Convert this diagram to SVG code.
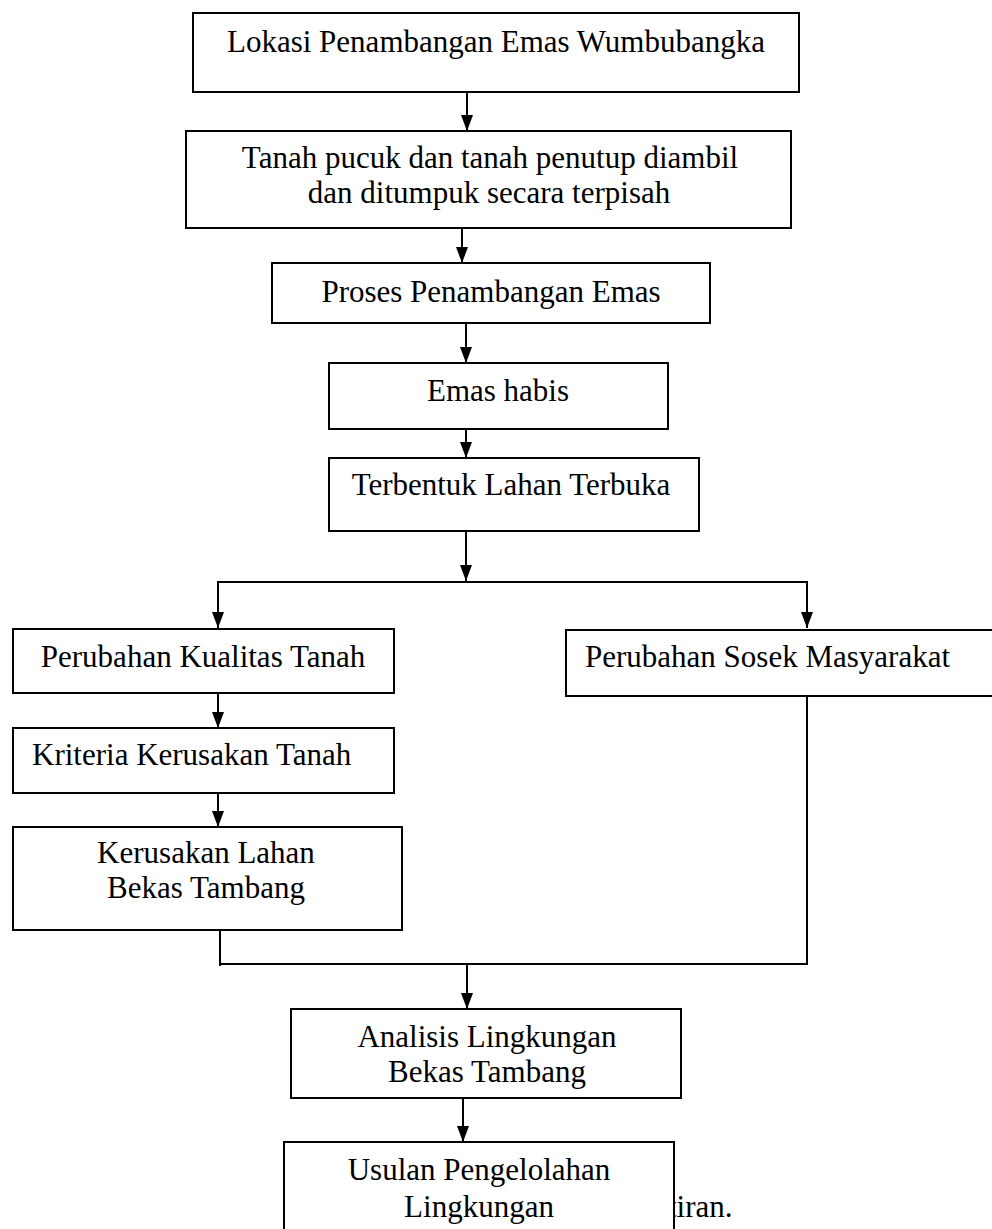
<svg xmlns="http://www.w3.org/2000/svg" width="992" height="1229" viewBox="0 0 992 1229">
<style>
rect{fill:#fff;stroke:#000;stroke-width:2}
text{font-family:"Liberation Serif","Times New Roman",serif;font-size:31px;fill:#000}
.m{text-anchor:middle}
.c{fill:none;stroke:#000;stroke-width:2}
</style>
<defs>
<marker id="ah" markerWidth="16" markerHeight="12" refX="16" refY="6" orient="auto" markerUnits="userSpaceOnUse" viewBox="0 0 16 12">
<path d="M0,0 L16,6 L0,12 Z" fill="#000"/>
</marker>
</defs>
<rect width="992" height="1229" style="fill:#fff;stroke:none"/>
<text x="668" y="1217">tiran.</text>
<g id="connectors">
<line class="c" x1="467" y1="92" x2="467" y2="131" marker-end="url(#ah)"/>
<line class="c" x1="462" y1="228" x2="462" y2="263" marker-end="url(#ah)"/>
<line class="c" x1="466" y1="320" x2="466" y2="363" marker-end="url(#ah)"/>
<line class="c" x1="466" y1="418" x2="466" y2="458" marker-end="url(#ah)"/>
<line class="c" x1="466" y1="531" x2="466" y2="581" marker-end="url(#ah)"/>
<polyline class="c" points="218,628 218,582 807,582 807,628"/>
<line class="c" x1="218" y1="582" x2="218" y2="628" marker-end="url(#ah)"/>
<line class="c" x1="807" y1="582" x2="807" y2="628" marker-end="url(#ah)"/>
<line class="c" x1="218" y1="693" x2="218" y2="728" marker-end="url(#ah)"/>
<line class="c" x1="218" y1="792" x2="218" y2="827" marker-end="url(#ah)"/>
<polyline class="c" points="220,930 220,966"/>
<polyline class="c" points="220,964 807,964 807,696"/>
<line class="c" x1="467" y1="964" x2="467" y2="1009" marker-end="url(#ah)"/>
<line class="c" x1="463" y1="1098" x2="463" y2="1142" marker-end="url(#ah)"/>
</g>
<g id="n1"><rect x="193" y="13" width="606" height="79"/><text class="m" x="496" y="52">Lokasi Penambangan Emas Wumbubangka</text></g>
<g id="n2"><rect x="186" y="131" width="605" height="97"/><text class="m" x="490" y="168">Tanah pucuk dan tanah penutup diambil</text><text class="m" x="489" y="203">dan ditumpuk secara terpisah</text></g>
<g id="n3"><rect x="272" y="263" width="438" height="60"/><text class="m" x="491" y="302">Proses Penambangan Emas</text></g>
<g id="n4"><rect x="329" y="363" width="339" height="66"/><text class="m" x="498" y="401">Emas habis</text></g>
<g id="n5"><rect x="329" y="458" width="370" height="73"/><text class="m" x="511" y="495">Terbentuk Lahan Terbuka</text></g>
<g id="n6"><rect x="13" y="629" width="381" height="64"/><text class="m" x="203" y="667">Perubahan Kualitas Tanah</text></g>
<g id="n7"><rect x="566" y="630" width="440" height="66"/><text x="585" y="667">Perubahan Sosek Masyarakat</text></g>
<g id="n8"><rect x="13" y="728" width="381" height="65"/><text x="32" y="765">Kriteria Kerusakan Tanah</text></g>
<g id="n9"><rect x="13" y="827" width="389" height="103"/><text class="m" x="206" y="863">Kerusakan Lahan</text><text class="m" x="206" y="898">Bekas Tambang</text></g>
<g id="n10"><rect x="291" y="1009" width="390" height="89"/><text class="m" x="487" y="1047">Analisis Lingkungan</text><text class="m" x="487" y="1082">Bekas Tambang</text></g>
<g id="n11"><rect x="284" y="1142" width="390" height="110"/><text class="m" x="479" y="1180">Usulan Pengelolahan</text><text class="m" x="479" y="1217">Lingkungan</text></g>
</svg>
